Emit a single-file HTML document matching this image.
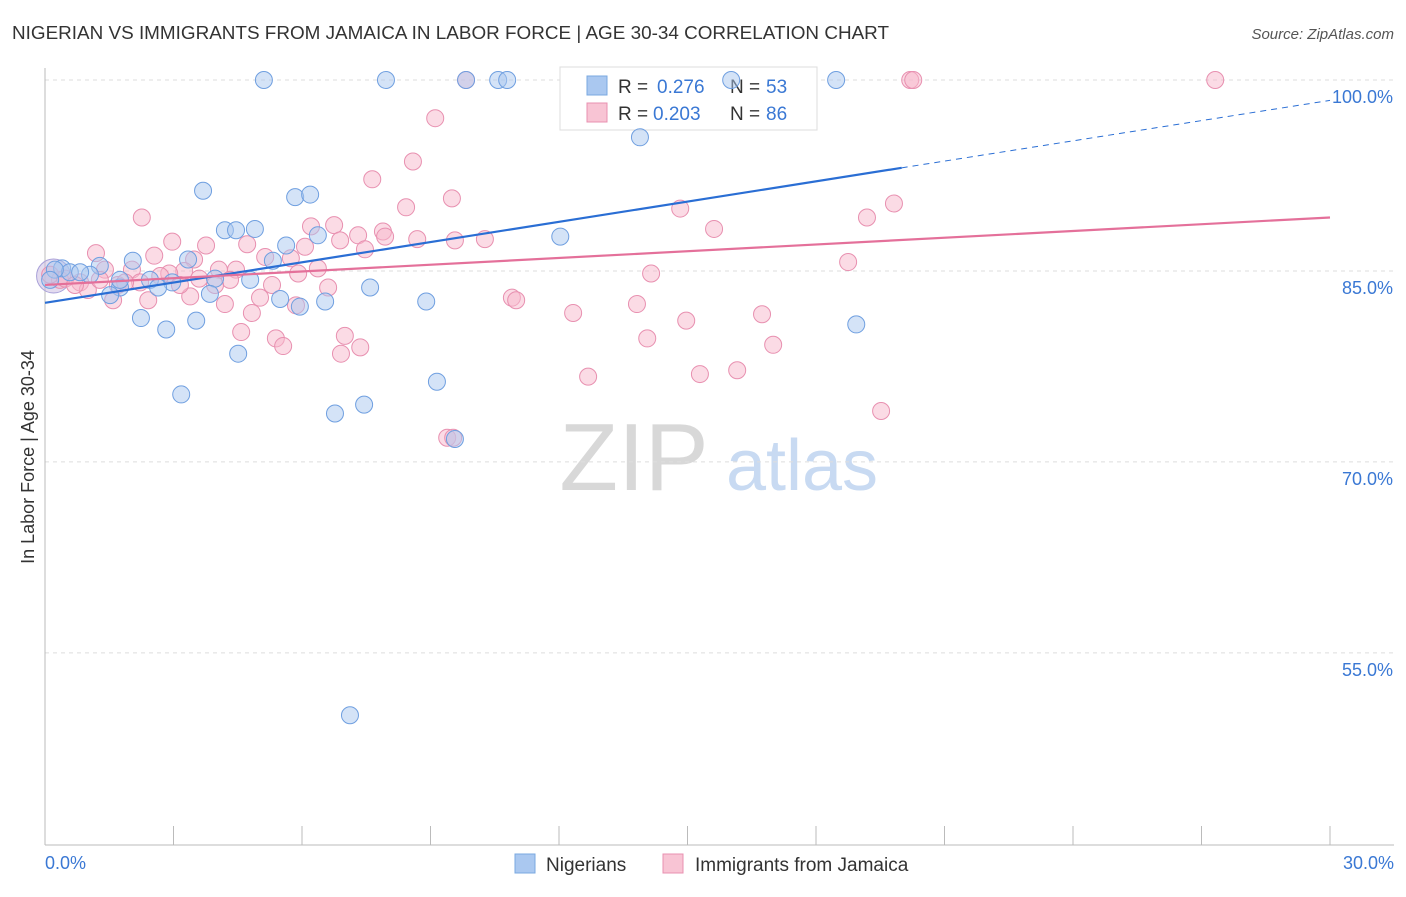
<!DOCTYPE html>
<html><head><meta charset="utf-8">
<style>
body{margin:0;background:#fff;font-family:"Liberation Sans",sans-serif;}
svg text{font-family:"Liberation Sans",sans-serif;}
</style></head>
<body>
<svg id="chart" width="1406" height="892" viewBox="0 0 1406 892">
<text x="12" y="39" font-size="18.5" fill="#333" textLength="877" lengthAdjust="spacingAndGlyphs">NIGERIAN VS IMMIGRANTS FROM JAMAICA IN LABOR FORCE | AGE 30-34 CORRELATION CHART</text>
<text x="1394" y="39" font-size="15" fill="#555" text-anchor="end" font-style="italic">Source: ZipAtlas.com</text>
<g>
<text x="634" y="490" font-size="96" fill="#d8d8d8" text-anchor="middle" font-family="Liberation Serif,serif">ZIP</text>
<text x="802" y="490" font-size="72" fill="#c8daf2" text-anchor="middle">atlas</text>
</g>
<text transform="translate(34,457) rotate(-90)" font-size="18" fill="#333" text-anchor="middle">In Labor Force | Age 30-34</text>
<g id="grid"></g>
<g id="axes"></g>
<g>
<rect x="560" y="67" width="257" height="63" fill="#fff" stroke="#ddd"/>
<rect x="587" y="76" width="20" height="19" fill="#aac8f0" stroke="#7aa8e0"/>
<text x="618" y="93" font-size="19" fill="#333">R =</text>
<text x="657" y="93" font-size="19" fill="#3a78d4">0.276</text>
<text x="730" y="93" font-size="19" fill="#333">N =</text>
<text x="766" y="93" font-size="19" fill="#3a78d4">53</text>
<rect x="587" y="103" width="20" height="19" fill="#f8c4d4" stroke="#e890b0"/>
<text x="618" y="120" font-size="19" fill="#333">R =</text>
<text x="653" y="120" font-size="19" fill="#3a78d4">0.203</text>
<text x="730" y="120" font-size="19" fill="#333">N =</text>
<text x="766" y="120" font-size="19" fill="#3a78d4">86</text>
</g>
<g id="pts"></g>
<g id="lines"></g>
<g>
<rect x="515" y="854" width="20" height="19" fill="#aac8f0" stroke="#7aa8e0"/>
<text x="546" y="871" font-size="19" fill="#333">Nigerians</text>
<rect x="663" y="854" width="20" height="19" fill="#f8c4d4" stroke="#e890b0"/>
<text x="695" y="871" font-size="19" fill="#333">Immigrants from Jamaica</text>
</g>
</svg>
<script>
const yTicks=[100,85,70,55];
const xTickLabels=["0.0%","30.0%"];
const blueX=[5.11,7.96,9.83,10.58,10.79,16.02,18.47,13.89,3.69,5.84,6.19,4.20,4.46,4.90,6.37,12.03,5.63,3.34,2.05,5.32,0.40,1.28,0.58,1.05,2.45,2.97,3.97,4.79,1.75,2.64,1.52,3.85,5.49,5.95,6.54,7.59,8.90,2.24,3.53,2.83,18.94,4.51,9.15,3.18,6.77,7.45,9.57,7.12,0.23,0.12,0.82,1.75];
const blueY=[100,100,100,100,100,100,100,95.5,91.3,90.8,91.0,88.2,88.2,88.3,87.8,87.7,87.0,85.9,85.8,85.8,85.2,85.4,84.9,84.7,84.3,84.1,84.4,84.3,83.7,83.7,83.1,83.2,82.8,82.2,82.6,83.7,82.6,81.3,81.1,80.4,80.8,78.5,76.3,75.3,73.8,74.5,71.8,50.1,85.1,84.3,84.9,84.3];
const pinkX=[9.83,20.20,20.27,27.32,9.11,8.59,7.64,9.50,8.43,19.82,14.83,2.26,19.19,6.21,6.75,7.31,7.89,7.94,8.69,10.27,15.62,2.97,3.76,4.72,1.19,2.55,3.48,5.14,5.74,6.07,6.37,7.47,18.75,1.40,2.03,3.25,4.06,4.46,2.90,3.60,4.32,5.91,14.15,0.35,0.82,1.70,2.22,5.30,6.61,1.00,1.59,2.41,3.39,4.20,4.83,5.02,5.86,10.90,11.00,12.33,13.82,14.97,16.74,4.58,5.39,5.56,7.00,7.36,6.91,14.06,17.00,12.68,15.29,16.16,19.52,9.39,9.53,0.12,0.47,1.28,0.70,1.87,2.69,3.15,3.97,6.89,9.57];
const pinkY=[100,100,100,100,97.0,93.6,92.2,90.7,90.0,90.3,89.9,89.2,89.2,88.5,88.6,87.8,88.1,87.7,87.5,87.5,88.3,87.3,87.0,87.1,86.4,86.2,85.9,86.1,86.0,86.9,85.2,86.7,85.7,85.1,85.1,85.0,85.1,85.1,84.8,84.4,84.3,84.8,84.8,84.3,84.1,83.9,84.1,83.9,83.7,83.5,82.7,82.7,83.0,82.4,81.7,82.9,82.3,82.9,82.7,81.7,82.4,81.1,81.6,80.2,79.7,79.1,79.9,79.0,78.5,79.7,79.2,76.7,76.9,77.2,74.0,71.9,71.9,84.7,84.4,84.3,83.9,84.1,84.6,83.9,83.9,87.4,87.4];
const blueTrend=[82.5,98.4];
const pinkTrend=[83.9,89.2];
const NS="http://www.w3.org/2000/svg";
const X0=45,X1=1330,Y100=80,PX=12.73;
function sx(v){return X0+(X1-X0)*v/30;}
function sy(v){return Y100+(100-v)*PX;}
function mk(tag,attrs,parent){const e=document.createElementNS(NS,tag);for(const k in attrs)e.setAttribute(k,attrs[k]);parent.appendChild(e);return e;}
const grid=document.getElementById('grid'),axes=document.getElementById('axes'),pts=document.getElementById('pts'),lines=document.getElementById('lines');
yTicks.forEach(t=>{
 const l=mk('line',{x1:X0,x2:1394,y1:sy(t),y2:sy(t),stroke:'#ddd','stroke-dasharray':'4,4'},grid);
 
 
 const tx=mk('text',{x:1393,y:sy(t)+23,'font-size':18,fill:'#3a78d4','text-anchor':'end'},grid);
 tx.textContent=t.toFixed(1)+'%';
 
 
});
const ax=mk('line',{x1:X0,x2:X0,y1:68,y2:845,stroke:'#bbb'},axes);


const bx=mk('line',{x1:X0,x2:1394,y1:845,y2:845,stroke:'#bbb'},axes);


for(let i=0;i<=10;i++){const t=mk('line',{x1:sx(i*3),x2:sx(i*3),y1:826,y2:845,stroke:'#bbb'},axes);
 
 }
[[0,'start',45],[30,'end',1394]].forEach((d,i)=>{const t=mk('text',{x:d[2],y:869,'font-size':18,fill:'#3a78d4','text-anchor':d[1]},axes);t.textContent=xTickLabels[i];
 
 });
function drawPts(xs,ys,fill,stroke,name){xs.forEach((x,i)=>{const c=mk('circle',{cx:sx(x),cy:sy(ys[i]),r:8.5,fill:fill,'fill-opacity':0.5,stroke:stroke,'stroke-width':1},pts);
 
 });}
const big=mk('circle',{cx:sx(0.2),cy:sy(84.6),r:17,fill:'#c8b8e0','fill-opacity':0.5,stroke:'#a8a0d8'},pts);


drawPts(pinkX,pinkY,'#f8b8cc','#e890b0','jamaica-point');
drawPts(blueX,blueY,'#aac8f0','#6f9fe0','nigerian-point');
const bxm=20;const bym=blueTrend[0]+(blueTrend[1]-blueTrend[0])*bxm/30;
const b1=mk('line',{x1:sx(0),y1:sy(blueTrend[0]),x2:sx(bxm),y2:sy(bym),stroke:'#2a6ed4','stroke-width':2.2},lines);


const b2=mk('line',{x1:sx(bxm),y1:sy(bym),x2:sx(30),y2:sy(blueTrend[1]),stroke:'#2a6ed4','stroke-width':1,'stroke-dasharray':'6,5'},lines);


const p1=mk('line',{x1:sx(0),y1:sy(pinkTrend[0]),x2:sx(30),y2:sy(pinkTrend[1]),stroke:'#e4709a','stroke-width':2.2},lines);


</script>
</body></html>
